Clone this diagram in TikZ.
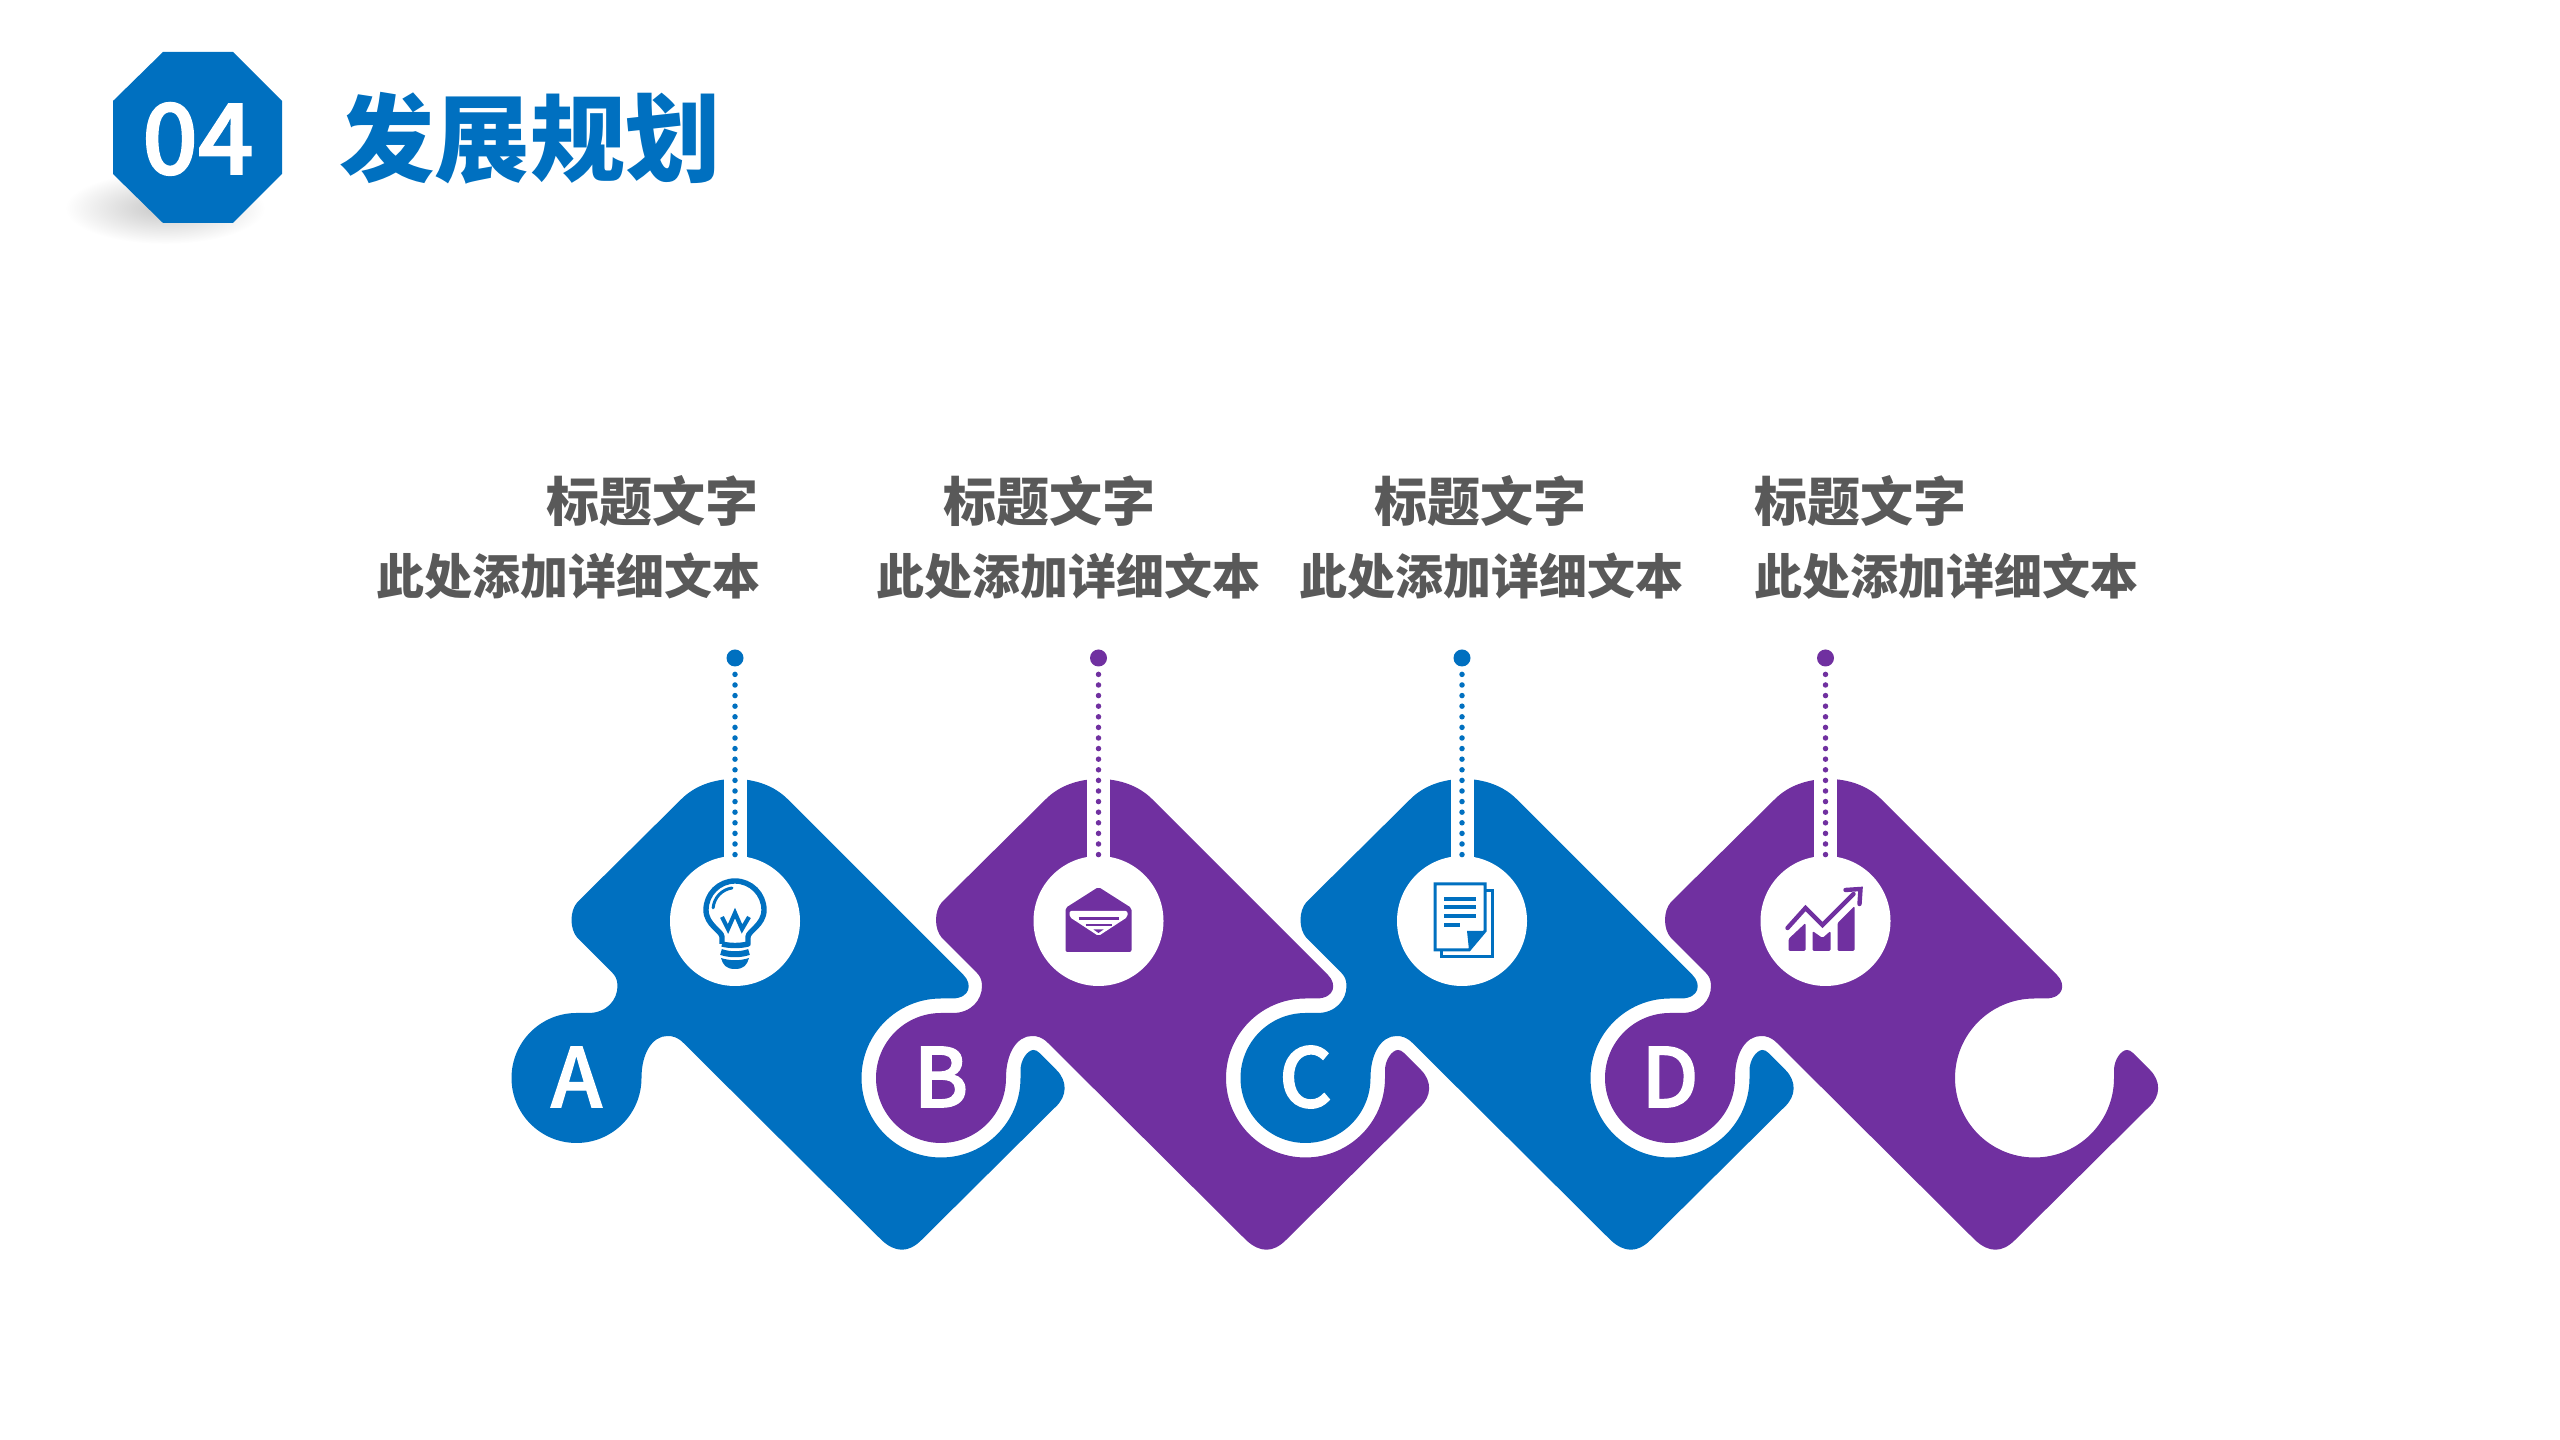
\documentclass[tikz,border=0pt]{standalone}
\usepackage{fontspec}
\newfontfamily\cjk{Noto Sans CJK SC}
\newfontfamily\cjkmid[FakeBold=1.6]{Noto Sans CJK SC Medium}
\definecolor{bluepart}{RGB}{0,112,192}
\definecolor{purplepart}{RGB}{112,48,160}
\definecolor{greytext}{RGB}{89,89,89}
\tikzset{
	headtext/.style={font=\cjk\bfseries\fontsize{26.5pt}{30pt}\selectfont,text=greytext,inner sep=0pt},
	subtext/.style={font=\cjk\bfseries\fontsize{24pt}{28pt}\selectfont,text=greytext,inner sep=0pt},
	lettertext/.style={font=\cjkmid\fontsize{41pt}{45pt}\selectfont,text=white,inner sep=0pt},
	iconspot/.style={circle,fill=white,minimum size=65pt,inner sep=0pt},
	pindot/.style={circle,minimum size=8.5pt,inner sep=0pt},
	pinline/.style={line width=2.75pt,line cap=round,dash pattern=on 0pt off 5.3pt,dash phase=1.55pt},
}
% The four icons, drawn round (0,0) in the colour of their scope
\newcommand{\iconbulb}{
	\draw[line width=2.7pt,line join=round] (-13,-23) -- (-13,-16) .. controls (-13,-10) and (-29,-4) .. (-29,11) arc[start angle=180,end angle=0,radius=29] .. controls (29,-4) and (13,-10) .. (13,-16) -- (13,-23) .. controls (5,-25) and (-5,-25) .. (-13,-23);
	\draw[line width=2.1pt] (-13,4) -- (-7,-8) -- (0,8) -- (7,-8) -- (14,4);
	\draw[line width=1.5pt,line cap=round] (-3,33) arc[start angle=98,end angle=175,radius=22];
	\draw[line width=3pt] (-14,-31) .. controls (-5,-34) and (5,-34) .. (14,-31);
	\fill (-14,-37) .. controls (-5,-40) and (5,-40) .. (14,-37) .. controls (12,-44) and (9,-48) .. (0,-48) .. controls (-9,-48) and (-12,-44) .. (-14,-37) -- cycle;
}
\newcommand{\iconmail}{
	\fill[rounded corners=1pt] (-33,-31) -- (33,-31) -- (33,13) -- (0,34) -- (-33,13) -- cycle;
	\fill[white,rounded corners=1pt] (-29,10) -- (29,10) -- (29,4) -- (0,-15) -- (-29,4) -- cycle;
	\draw[line width=1.3pt] (-20,2.5) -- (20,2.5);
	\draw[line width=1.3pt] (-13,-4) -- (13,-4);
	\fill (-5,-8.5) -- (5,-8.5) -- (0,-12) -- cycle;
}
\newcommand{\icondoc}{
	\draw[line width=1.5pt] (23,30) -- (30,30) -- (30,-36) -- (-21,-36) -- (-21,-29);
	\draw[line width=1.5pt] (-27,37) -- (23,37) -- (23,-10) -- (7,-29) -- (-27,-29) -- cycle;
	\fill (5,-10) -- (23,-10) -- (7,-29) -- cycle;
	\foreach \v in {22.3,14,5}{
		\draw[line width=2pt] (-18,\v) -- (14,\v);
	}
	\draw[line width=2pt] (-18,-4) -- (-2,-4);
}
\newcommand{\iconchart}{
	\fill[rounded corners=.7pt] (-37,-30) -- (-37,-18) -- (-20,-2) -- (-20,-30) -- cycle;
	\fill[rounded corners=.7pt] (-13,-30) -- (-13,-10) -- (-3,-17) -- (5,-10) -- (5,-30) -- cycle;
	\fill[rounded corners=.7pt] (12,-30) -- (12,-2) -- (29,15) -- (29,-30) -- cycle;
	\draw[line width=2.2pt,line cap=round] (-38,-7) -- (-20,13) -- (-3,-4) -- (28,27);
	\draw[line width=2.2pt,line cap=round] (20,31) -- (35,32) -- (34,17);
}
\begin{document}
\begin{tikzpicture}[x=.5pt,y=.5pt]
	\useasboundingbox (0,0) rectangle (2560,1440);
	% Section badge and title
	\shade[inner color=black!22,outer color=white] (165,1232) ellipse (100 and 36);
	\fill[bluepart] (163,1388) -- (233,1388) -- (282,1339) -- (282,1266) -- (233,1217) -- (163,1217) -- (113,1266) -- (113,1339) -- cycle;
	\node[font=\cjkmid\fontsize{49pt}{52pt}\selectfont,text=white,inner sep=0pt] (badge) at (198,1301) {04};
	\node[font=\cjk\bfseries\fontsize{47.6pt}{52pt}\selectfont,text=bluepart,inner sep=0pt] (title) at (530,1302) {发展规划};
	% Captions above the pieces
	\foreach \i/\hx/\sx in {1/652/568,2/1049/1068,3/1480/1491,4/1860/1946}{
		\node[headtext] (head\i) at (\hx,939) {标题文字};
		\node[subtext] (sub\i) at (\sx,864) {此处添加详细文本};
	}
	% Puzzle pieces
	\foreach \i/\col/\ico/\lab in {0/bluepart/\iconbulb/A,1/purplepart/\iconmail/B,2/bluepart/\icondoc/C,3/purplepart/\iconchart/D}{
		\begin{scope}[shift={({576.5+\i*364.5},362)}]
			\pgfmathsetmacro{\px}{158.5-\i}
			\fill[\col] (105,279) .. controls (118,292) and (137,299) .. (158,299) .. controls (179,299) and (198,292) .. (211,279) -- (387,103) .. controls (396,94) and (394,80) .. (376,79.5) -- (364.5,79.5) arc[start angle=90,end angle=360,radius=79.5] -- (444,8) .. controls (444,18) and (451,28) .. (457,28) .. controls (459,28) and (461,27) .. (463,25) -- (480,8) .. controls (491,-3) and (491,-18) .. (479,-29) -- (345,-162) .. controls (332,-175) and (319,-175) .. (305,-162) -- (107,35) .. controls (101,41) and (96,42) .. (91,42) .. controls (76,42) and (65,25) .. (65,0) arc[start angle=0,end angle=-270,radius=65] -- (12,65) .. controls (30,65) and (41,78) .. (41,92) .. controls (41,98) and (39,102) .. (36,105) -- (1,140) .. controls (-7,149) and (-7,167) .. (1,176) -- (105,279) -- cycle;
			\fill[white] (\px-11.5,157) rectangle (\px+11.5,310);
			\node[iconspot] (icon\i) at (\px,157) {};
			\node[pindot,fill=\col] (dot\i) at (\px,420) {};
			\draw[pinline,\col] (dot\i) -- (icon\i);
			\node[lettertext] (letter\i) at (0,1) {\lab};
			\begin{scope}[shift={(\px,157)},color=\col]
				\ico
			\end{scope}
		\end{scope}
	}
\end{tikzpicture}
\end{document}
